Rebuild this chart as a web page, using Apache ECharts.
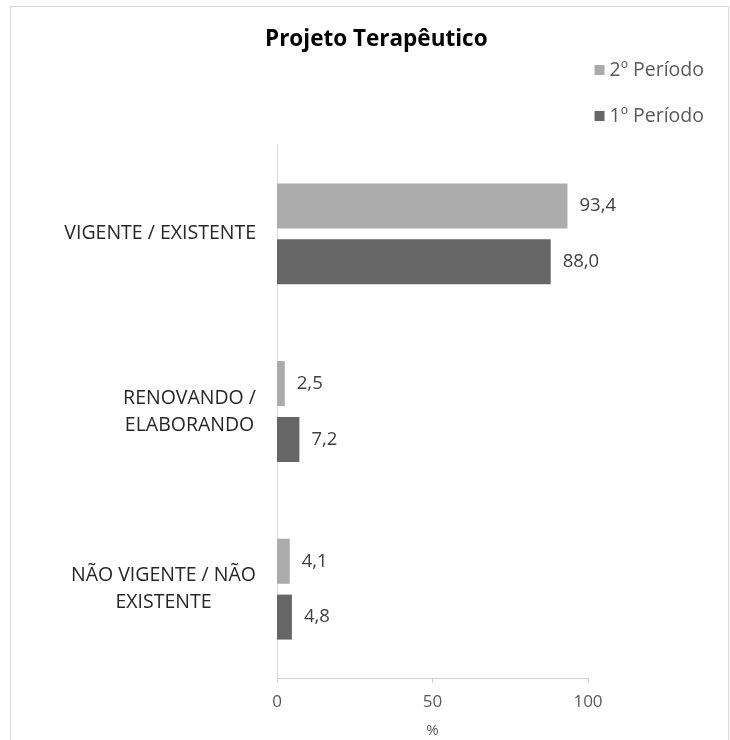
<!DOCTYPE html>
<html>
<head>
<meta charset="utf-8">
<script src="https://cdn.jsdelivr.net/npm/echarts@6/dist/echarts.min.js"></script>
<style>
  html, body { margin: 0; padding: 0; background: #fff; }
  #chart { width: 730px; height: 740px; }
</style>
</head>
<body>
<div id="chart"></div>
<script>
// dados
const categorias = ['VIGENTE / EXISTENTE', 'RENOVANDO /\nELABORANDO', 'NÃO VIGENTE / NÃO\nEXISTENTE'];
const periodo2 = [93.4, 2.5, 4.1];
const periodo1 = [88.0, 7.2, 4.8];
const nomesSeries = ['2º Período', '1º Período'];
const ticksX = [0, 50, 100];

const fonte = '"Open Sans", "Noto Sans", sans-serif';

const labelValor = {
  show: true,
  position: 'right',
  distance: 12,
  color: '#404040',
  fontSize: 18.5,
  fontFamily: fonte,
  formatter: (p) => p.value.toFixed(1).replace('.', ',')
};

const chart = echarts.init(document.getElementById('chart'));
chart.setOption({
  animation: false,
  backgroundColor: '#fff',
  graphic: [{
    type: 'rect',
    shape: { x: 10.5, y: 6.5, width: 718, height: 760 },
    style: { fill: 'none', stroke: '#d9d9d9', lineWidth: 1 },
    silent: true
  }],
  title: {
    text: 'Projeto Terapêutico',
    left: 260,
    top: 23,
    textStyle: { fontSize: 22.5, fontWeight: 'bold', color: '#000', fontFamily: fonte }
  },
  legend: {
    data: nomesSeries,
    orient: 'vertical',
    right: 21,
    top: 55,
    itemWidth: 10,
    itemHeight: 10,
    itemGap: 26,
    icon: 'rect',
    textStyle: { fontSize: 19.5, color: '#595959', fontFamily: fonte }
  },
  grid: { left: 277, right: 142, top: 145, bottom: 62, outerBoundsMode: 'none' },
  xAxis: {
    type: 'value',
    min: ticksX[0],
    max: ticksX[ticksX.length - 1],
    interval: 50,
    name: '%',
    nameLocation: 'middle',
    nameGap: 45,
    nameTextStyle: { fontSize: 15, color: '#595959', fontFamily: fonte },
    axisLine: { show: true, lineStyle: { color: '#d0d0d0' } },
    axisTick: { show: true, length: 5, lineStyle: { color: '#d0d0d0' } },
    axisLabel: { fontSize: 17, color: '#595959', margin: 16, fontFamily: fonte },
    splitLine: { show: false }
  },
  yAxis: {
    type: 'category',
    data: categorias,
    inverse: true,
    axisLine: { show: true, lineStyle: { color: '#d9d9d9' } },
    axisTick: { show: false },
    axisLabel: {
      margin: 21,
      fontSize: 19.5,
      color: '#262626',
      fontFamily: fonte,
      lineHeight: 27,
      formatter: (v) => v.split('\n').map(l => '{c|' + l + '}').join('\n'),
      rich: { c: { align: 'center', fontSize: 19.5, color: '#262626', fontFamily: fonte, lineHeight: 27 } }
    }
  },
  series: [
    {
      name: nomesSeries[0],
      type: 'bar',
      data: periodo2,
      barWidth: 45,
      barGap: '24%',
      itemStyle: { color: '#ababab' },
      label: labelValor
    },
    {
      name: nomesSeries[1],
      type: 'bar',
      data: periodo1,
      barWidth: 45,
      barGap: '24%',
      itemStyle: { color: '#666666' },
      label: labelValor
    }
  ]
});
</script>
</body>
</html>
